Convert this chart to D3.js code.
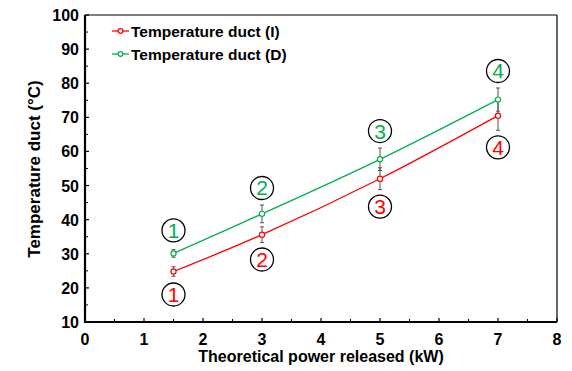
<!DOCTYPE html>
<html><head><meta charset="utf-8">
<script src="https://cdn.jsdelivr.net/npm/d3@7/dist/d3.min.js"></script>
<style>body{margin:0;background:#fff}text{font-family:"Liberation Sans",Arial,sans-serif}</style>
</head><body><svg id="c" width="572" height="371"></svg>
<script>
const power = [1.5, 3, 5, 7];
const tempI = [24.8, 35.6, 52.0, 70.5];
const errI = [1.4, 2.3, 3.2, 4.3];
const tempD = [30.1, 41.7, 57.7, 75.2];
const errD = [1.1, 2.6, 3.3, 3.4];
const pointLabels = ["1", "2", "3", "4"];
const seriesNames = ["Temperature duct (I)", "Temperature duct (D)"];
const xTicks = [0,1,2,3,4,5,6,7,8];
const yTicks = [10,20,30,40,50,60,70,80,90,100];

const svg = d3.select("#c");
const L=85, R=557, T=15, B=322;
const x = d3.scaleLinear().domain([0,8]).range([L,R]);
const y = d3.scaleLinear().domain([10,100]).range([B,T]);

svg.append("line").attr("x1",L).attr("x2",R).attr("y1",T).attr("y2",T).attr("stroke","#000").attr("stroke-width",1.2);
svg.append("line").attr("x1",R).attr("x2",R).attr("y1",T).attr("y2",B).attr("stroke","#000").attr("stroke-width",1.2);

const yMinor = d3.range(15,100,10);
svg.selectAll(".ymin").data(yMinor).enter().append("line")
  .attr("x1",L).attr("x2",L+3).attr("y1",d=>y(d)).attr("y2",d=>y(d)).attr("stroke","#000");
svg.selectAll(".ymaj").data(yTicks).enter().append("line")
  .attr("x1",L).attr("x2",L+4).attr("y1",d=>y(d)).attr("y2",d=>y(d)).attr("stroke","#000").attr("stroke-width",1.2);
svg.selectAll(".ylab").data(yTicks).enter().append("text")
  .attr("x",L-6).attr("y",d=>y(d)+6).attr("text-anchor","end")
  .attr("font-size",16).attr("font-weight","bold").text(d=>d);

const xMinor = d3.range(0.5,8,1);
svg.selectAll(".xmin").data(xMinor).enter().append("line")
  .attr("x1",d=>x(d)).attr("x2",d=>x(d)).attr("y1",B).attr("y2",B-3).attr("stroke","#000");
svg.selectAll(".xmaj").data(xTicks).enter().append("line")
  .attr("x1",d=>x(d)).attr("x2",d=>x(d)).attr("y1",B).attr("y2",B-4).attr("stroke","#000").attr("stroke-width",1.2);
svg.selectAll(".xlab").data(xTicks).enter().append("text")
  .attr("x",d=>x(d)).attr("y",B+23).attr("text-anchor","middle")
  .attr("font-size",16).attr("font-weight","bold").text(d=>d);

svg.append("line").attr("x1",L).attr("x2",L).attr("y1",T).attr("y2",B+1).attr("stroke","#000").attr("stroke-width",2.2);
svg.append("line").attr("x1",L-1).attr("x2",R).attr("y1",B).attr("y2",B).attr("stroke","#000").attr("stroke-width",2.2);

svg.append("text").attr("x",(L+R)/2).attr("y",362).attr("text-anchor","middle")
  .attr("font-size",16).attr("font-weight","bold").text("Theoretical power released (kW)");
svg.append("text").attr("transform",`translate(40,169) rotate(-90)`).attr("text-anchor","middle")
  .attr("font-size",17).attr("font-weight","bold").text("Temperature duct (°C)");

const series = [
  {name:seriesNames[0], vals:tempI, err:errI, color:"#ff0000", below:true},
  {name:seriesNames[1], vals:tempD, err:errD, color:"#00b050", below:false}
];
const line = d3.line().x(d=>x(d[0])).y(d=>y(d[1])).curve(d3.curveCatmullRom.alpha(0.5));

series.forEach(s=>{
  const pts = power.map((p,i)=>[p,s.vals[i],s.err[i]]);
  const g = svg.append("g").attr("stroke","#555").attr("stroke-width",1);
  pts.forEach(p=>{
    g.append("line").attr("x1",x(p[0])).attr("x2",x(p[0])).attr("y1",y(p[1]-p[2])).attr("y2",y(p[1]+p[2]));
    [p[1]-p[2],p[1]+p[2]].forEach(v=>g.append("line").attr("x1",x(p[0])-2).attr("x2",x(p[0])+2).attr("y1",y(v)).attr("y2",y(v)));
  });
  svg.append("path").datum(pts).attr("d",line).attr("fill","none").attr("stroke",s.color).attr("stroke-width",1.3);
  svg.selectAll(null).data(pts).enter().append("circle")
    .attr("cx",d=>x(d[0])).attr("cy",d=>y(d[1])).attr("r",2.6)
    .attr("fill","#fff").attr("stroke",s.color).attr("stroke-width",1.2);
  pts.forEach((p,i)=>{
    const errPx = y(p[1]-p[2]) - y(p[1]);
    const off = Math.max(errPx + 17, 23);
    const cy = s.below ? y(p[1]) + off : y(p[1]) - off;
    const cx = x(p[0]);
    svg.append("circle").attr("cx",cx).attr("cy",cy).attr("r",11.5).attr("fill","#fff").attr("stroke","#000").attr("stroke-width",1.3);
    svg.append("text").attr("x",cx).attr("y",cy+7.5).attr("text-anchor","middle")
      .attr("font-size",21).attr("fill",s.color).text(pointLabels[i]);
  });
});

series.forEach((s,i)=>{
  const ly = 31 + i*23;
  svg.append("line").attr("x1",112).attr("x2",129).attr("y1",ly).attr("y2",ly).attr("stroke",s.color).attr("stroke-width",1.3);
  svg.append("circle").attr("cx",120.5).attr("cy",ly).attr("r",2.4).attr("fill","#fff").attr("stroke",s.color).attr("stroke-width",1.2);
  svg.append("text").attr("x",131).attr("y",ly+5.5).attr("font-size",15.5).attr("font-weight","bold").text(s.name);
});
</script></body></html>
